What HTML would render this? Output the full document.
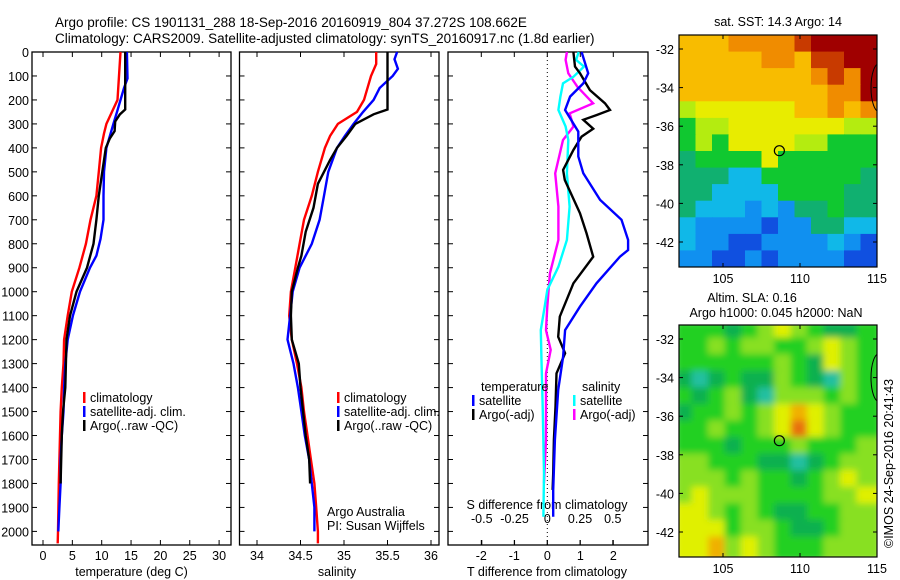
<!DOCTYPE html>
<html><head><meta charset="utf-8">
<style>
body{margin:0;background:#fff;}
svg{display:block;font-family:"Liberation Sans",sans-serif;}
text{font-size:12.5px;fill:#000;}
</style></head>
<body>
<svg id="fig" width="900" height="580" viewBox="0 0 900 580" xmlns="http://www.w3.org/2000/svg">
<rect width="900" height="580" fill="#fff"/>
<text x="55" y="27" style="font-size:13.5px">Argo profile: CS 1901131_288 18-Sep-2016 20160919_804 37.272S 108.662E</text>
<text x="55" y="43" style="font-size:13.5px">Climatology: CARS2009. Satellite-adjusted climatology: synTS_20160917.nc (1.8d earlier)</text>
<g id="g"></g>
</svg>
<script>
// ---------- DATA ----------
const depthTicks=[0,100,200,300,400,500,600,700,800,900,1000,1100,1200,1300,1400,1500,1600,1700,1800,1900,2000];
const tempTicks=[0,5,10,15,20,25,30];
const salTicks=[34,34.5,35,35.5,36];
const salTickLabels=["34","34.5","35","35.5","36"];
const tdTicks=[-2,-1,0,1,2];
const sdTicks=[-0.5,-0.25,0,0.25,0.5];
const sdTickLabels=["-0.5","-0.25","0","0.25","0.5"];

const tClimDepth=[0,200,300,340,400,500,600,700,800,900,1000,1100,1200,1300,1400,1500,1700,1800,2000,2050];
const tClim=[13.2,12.7,10.8,10.4,9.9,9.5,9.1,8.1,7.3,6.2,4.9,4.2,3.6,3.5,3.2,3.0,2.8,2.7,2.55,2.5];
const tSatDepth=[0,110,150,250,300,400,500,600,700,780,850,900,1000,1100,1200,1300,1400,1500,1600,1700,1800,1900,2000];
const tSat=[14.3,14.4,13.8,12.6,12.0,10.8,10.4,10.3,10.3,9.8,9.1,8.0,6.3,5.1,4.2,3.8,3.6,3.5,3.2,3.0,3.0,2.8,2.6];
const tArgoDepth=[0,240,260,290,330,360,400,500,600,700,800,900,1000,1100,1200,1300,1400,1500,1600,1700,1800];
const tArgo=[14.0,14.0,13.1,12.3,12.2,11.4,10.7,10.1,9.5,9.1,8.6,7.5,5.7,4.6,4.0,3.9,3.8,3.4,3.2,3.1,3.0];

const sClimDepth=[0,50,100,200,250,300,350,400,500,600,700,800,900,1000,1100,1200,1300,1400,1500,1600,1700,1800,1900,2000,2050];
const sClim=[35.37,35.37,35.31,35.23,35.15,34.93,34.84,34.78,34.70,34.63,34.54,34.49,34.44,34.39,34.37,34.40,34.46,34.51,34.54,34.58,34.62,34.66,34.68,34.70,34.70];
const sSatDepth=[0,30,70,100,150,200,250,300,350,400,500,600,700,800,900,1000,1100,1200,1300,1400,1500,1600,1700,1800,1900,2000];
const sSat=[35.61,35.58,35.62,35.56,35.41,35.34,35.22,35.11,35.01,34.92,34.82,34.77,34.72,34.63,34.49,34.41,34.38,34.35,34.42,34.47,34.51,34.55,34.60,34.63,34.66,34.66];
const sArgoDepth=[0,240,260,300,350,400,450,550,650,750,850,900,1000,1100,1200,1250,1300,1400,1500,1600,1700,1800];
const sArgo=[35.50,35.50,35.34,35.13,35.03,34.92,34.84,34.70,34.65,34.56,34.51,34.47,34.40,34.39,34.40,34.44,34.48,34.50,34.53,34.56,34.60,34.61];

const dTSatDepth=[0,89,131,186,242,332,436,506,617,700,784,826,854,965,1062,1160,1271,1410,1618,1827,1939];
const dTSat=[1.04,1.24,1.09,0.69,0.54,0.94,0.94,1.09,1.6,2.25,2.45,2.45,2.2,1.49,0.99,0.54,0.48,0.33,0.23,0.18,0.18];
const dTArgoDepth=[0,61,89,159,214,242,263,283,320,353,409,492,534,673,757,854,965,1104,1188,1257,1341,1480,1618,1758,1827];
const dTArgo=[0.79,0.84,0.99,1.29,1.75,1.9,1.5,1.09,1.39,1.04,0.79,0.48,0.53,0.99,1.19,1.39,0.79,0.38,0.33,0.54,0.28,0.25,0.2,0.18,0.16];
const dSSatDepth=[0,33,61,103,131,186,242,311,367,506,645,784,896,993,1062,1160,1271,1480,1758,1939];
const dSSat=[0.24,0.22,0.28,0.2,0.12,0.10,0.085,0.14,0.16,0.15,0.17,0.15,0.085,0,-0.02,-0.05,-0.045,-0.035,-0.025,-0.03];
const dSArgoDepth=[0,33,89,145,214,256,311,367,506,645,784,924,1062,1160,1243,1341,1480,1618,1799];
const dSArgo=[0.15,0.14,0.16,0.23,0.35,0.17,0.2,0.12,0.06,0.085,0.085,0.02,0,-0.01,0.026,-0.01,-0.01,-0.01,-0.025];

const lonTicks=[105,110,115];
const sstLatTicks=[-32,-34,-36,-38,-40,-42];
const sstGrid=[
[3,3,3,2,2,2,2,1,0,0,0,0],
[3,3,3,3,3,2,2,3,1,1,0,0],
[3,3,3,3,3,3,3,3,2,1,2,0],
[3,3,3,3,3,3,3,3,3,2,2,0],
[5,4,4,4,4,4,4,3,3,2,3,2],
[6,5,5,4,4,4,4,4,4,4,5,5],
[6,5,6,4,4,4,4,5,5,6,6,6],
[7,6,6,6,6,4,6,6,6,6,6,6],
[7,7,7,8,8,6,6,6,6,6,6,7],
[7,7,8,8,8,8,6,6,6,6,7,7],
[7,8,8,8,9,8,9,7,7,6,7,7],
[8,9,9,9,9,10,9,9,7,7,8,8],
[8,9,9,10,10,9,9,9,9,8,9,10],
[9,9,10,10,9,10,9,9,9,9,10,10]];
const sstColors=["#a00000","#c83a00","#f08c00","#f8bc00","#e8ec00","#b4ec10","#10c830","#10b070","#10b8e8","#1090f0","#1050e0"];
const slaGrid=[
[2,2,2,1,2,3,4,3,2,1,1,2],
[2,2,3,2,3,3,2,2,3,4,3,2],
[2,2,2,2,2,2,3,2,1,4,3,2],
[1,0,1,2,1,1,3,2,1,0,3,2],
[2,1,2,3,1,0,3,3,3,2,3,2],
[1,2,2,3,2,3,4,5,4,3,2,2],
[2,2,3,2,2,3,4,6,4,3,2,2],
[2,2,2,1,2,2,2,3,2,2,2,3],
[3,3,2,2,2,1,1,0,1,2,3,3],
[3,3,3,2,3,2,2,1,2,3,4,3],
[3,4,3,3,3,2,2,2,2,3,3,4],
[4,4,3,2,3,2,1,1,2,2,3,3],
[4,4,4,2,3,3,2,1,1,2,3,3],
[4,4,5,3,4,3,2,2,2,3,3,3]];
const slaColors=["#20c0a0","#10b050","#20d020","#88e020","#e0f000","#f0b000","#e87010"];
const argoLon=108.66, argoLat=-37.27;

// ---------- helpers ----------
const NS="http://www.w3.org/2000/svg";
const G=document.getElementById('g');
function mk(tag,attrs,parent){const e=document.createElementNS(NS,tag);for(const k in attrs)e.setAttribute(k,attrs[k]);(parent||G).appendChild(e);return e;}
const top0=52,bot=545;
const yD=d=>top0+d*0.2397;
const P1={l:32,r:231},P2={l:239.5,r:439},P3={l:448,r:648};
const xT=t=>43+t*5.87;
const xS=s=>257+(s-34)*87;
const xDT=t=>547.3+t*33;
const xDS=s=>547.3+s*131;

function frame(P,name){
  const r=mk('rect',{x:P.l,y:top0,width:P.r-P.l,height:bot-top0,fill:'none',stroke:'#000','stroke-width':1.3});
  
  
}
function line(xs,ds,fx,color,name,w){
  const pts=xs.map((v,i)=>fx(v).toFixed(1)+','+yD(ds[i]).toFixed(1)).join(' ');
  const p=mk('polyline',{points:pts,fill:'none',stroke:color,'stroke-width':w||2.4,'stroke-linejoin':'miter'});
  
  
}
function txt(x,y,s,anchor,name,extra){
  const t=mk('text',Object.assign({x:x,y:y,'text-anchor':anchor||'start'},extra||{}));
  t.textContent=s;
  
  
  return t;
}
function vticks(P,fx,vals,labels,name){
  vals.forEach((v,i)=>{
    const x=fx(v);
    mk('line',{x1:x,y1:bot,x2:x,y2:bot-5,stroke:'#000'});
    mk('line',{x1:x,y1:top0,x2:x,y2:top0+5,stroke:'#000'});
    txt(x,560,labels?labels[i]:String(v),'middle',name+'-tick-label');
  });
}
function depthTickMarks(P){
  depthTicks.forEach(d=>{const y=yD(d);
    mk('line',{x1:P.l,y1:y,x2:P.l+5,y2:y,stroke:'#000'});
    mk('line',{x1:P.r,y1:y,x2:P.r-5,y2:y,stroke:'#000'});});
}
function legend(x,y,color,label,name){
  const b=mk('rect',{x:x,y:y-10,width:2.5,height:11,fill:color});
  
  
  txt(x+7,y,label,'start',name);
}

// ---------- panel 1 ----------
frame(P1,'temperature-panel');
depthTickMarks(P1);
depthTicks.forEach(d=>txt(29,yD(d)+5,String(d),'end','depth-tick-label'));
vticks(P1,xT,tempTicks,null,'temperature-x');
txt(131.5,576,'temperature (deg C)','middle','temperature-x-axis-title');
line(tClim,tClimDepth,xT,'#ff0000','temperature-climatology-line');
line(tSat,tSatDepth,xT,'#0000ff','temperature-satellite-line');
line(tArgo,tArgoDepth,xT,'#000000','temperature-argo-line');
legend(83,402,'#ff0000','climatology','legend-climatology');
legend(83,416,'#0000ff','satellite-adj. clim.','legend-satellite-adj');
legend(83,430,'#000000','Argo(..raw -QC)','legend-argo');

// ---------- panel 2 ----------
frame(P2,'salinity-panel');
depthTickMarks(P2);
vticks(P2,xS,salTicks,salTickLabels,'salinity-x');
txt(337,576,'salinity','middle','salinity-x-axis-title');
line(sClim,sClimDepth,xS,'#ff0000','salinity-climatology-line');
line(sSat,sSatDepth,xS,'#0000ff','salinity-satellite-line');
line(sArgo,sArgoDepth,xS,'#000000','salinity-argo-line');
legend(337,402,'#ff0000','climatology','legend-climatology-sal');
legend(337,416,'#0000ff','satellite-adj. clim.','legend-satellite-adj-sal');
legend(337,430,'#000000','Argo(..raw -QC)','legend-argo-sal');
txt(327,516,'Argo Australia','start','credit-argo-australia');
txt(327,530,'PI: Susan Wijffels','start','credit-pi');

// ---------- panel 3 ----------
frame(P3,'difference-panel');
depthTickMarks(P3);
vticks(P3,xDT,tdTicks,null,'t-diff-x');
sdTicks.forEach((v,i)=>{const x=xDS(v);mk('line',{x1:x,y1:bot,x2:x,y2:bot-5,stroke:'#000'});txt(x,523,sdTickLabels[i],'middle','s-diff-tick-label');});
txt(547,509,'S difference from climatology','middle','s-diff-axis-title');
txt(547,576,'T difference from climatology','middle','t-diff-axis-title');
mk('line',{x1:xDT(0),y1:top0,x2:xDT(0),y2:bot,stroke:'#000','stroke-dasharray':'1,3'});
line(dSArgo,dSArgoDepth,xDS,'#ff00ff','s-diff-argo-line');
line(dSSat,dSSatDepth,xDS,'#00ffff','s-diff-satellite-line');
line(dTArgo,dTArgoDepth,xDT,'#000000','t-diff-argo-line');
line(dTSat,dTSatDepth,xDT,'#0000ff','t-diff-satellite-line');
txt(481,391,'temperature','start','legend-temperature-heading');
legend(472,405,'#0000ff','satellite','legend-t-satellite');
legend(472,419,'#000000','Argo(-adj)','legend-t-argo');
txt(582,391,'salinity','start','legend-salinity-heading');
legend(573,405,'#00ffff','satellite','legend-s-satellite');
legend(573,419,'#ff00ff','Argo(-adj)','legend-s-argo');

// ---------- maps ----------
const ML=679,MR=877;
const xLon=lo=>723+(lo-105)*15.4;
function map(topY,botY,lat0y,grid,colors,name,blur){
  const yLat=la=>lat0y+(-32-la)*19.3;
  const cw=(MR-ML)/grid[0].length, ch=(botY-topY)/grid.length;
  const cid='clip-'+name;
  const cp=mk('clipPath',{id:cid});mk('rect',{x:ML,y:topY,width:MR-ML,height:botY-topY},cp);
  const g=mk('g',{'clip-path':'url(#'+cid+')'});
  
  
  const inner=mk('g',blur?{filter:'url(#blur)'}:{},g);
  grid.forEach((row,r)=>row.forEach((c,k)=>{
    const cell=mk('rect',{x:(ML+k*cw-(blur?4:0)).toFixed(1),y:(topY+r*ch-(blur?4:0)).toFixed(1),width:(cw+(blur?8:0.6)).toFixed(1),height:(ch+(blur?8:0.6)).toFixed(1),fill:colors[c]},inner);
    
    
  }));
  const f=mk('rect',{x:ML,y:topY,width:MR-ML,height:botY-topY,fill:'none',stroke:'#000','stroke-width':1.2});
  
  
  sstLatTicks.forEach(la=>{const y=yLat(la);
    mk('line',{x1:ML,y1:y,x2:ML+4,y2:y,stroke:'#000'});mk('line',{x1:MR,y1:y,x2:MR-4,y2:y,stroke:'#000'});
    txt(674,y+5,String(la),'end',name+'-lat-label');});
  lonTicks.forEach(lo=>{const x=xLon(lo);
    mk('line',{x1:x,y1:topY,x2:x,y2:topY+4,stroke:'#000'});mk('line',{x1:x,y1:botY,x2:x,y2:botY-4,stroke:'#000'});
    txt(x,botY+16,String(lo),'middle',name+'-lon-label');});
  const ell=mk('ellipse',{cx:MR+2,cy:yLat(-34),rx:8,ry:24,fill:'none',stroke:'#000'},g);
  
  
  const m=mk('circle',{cx:xLon(argoLon),cy:yLat(argoLat),r:5,fill:'none',stroke:'#000','stroke-width':1.2});
  
  
}
const defs=mk('defs',{});
const flt=mk('filter',{id:'blur',x:'-5%',y:'-5%',width:'110%',height:'110%'},defs);
mk('feGaussianBlur',{stdDeviation:3.5},flt);
map(35,267,49,sstGrid,sstColors,'sst-map',false);
map(325,557,339,slaGrid,slaColors,'sla-map',true);
txt(778,26,'sat. SST: 14.3 Argo: 14','middle','sst-map-title');
txt(752,302,'Altim. SLA: 0.16','middle','sla-map-title');
txt(776,317,'Argo h1000: 0.045 h2000: NaN','middle','sla-map-subtitle');
txt(0,0,'©IMOS 24-Sep-2016 20:41:43','start','imos-timestamp',{transform:'translate(893,548) rotate(-90)'});
</script>
</body></html>
